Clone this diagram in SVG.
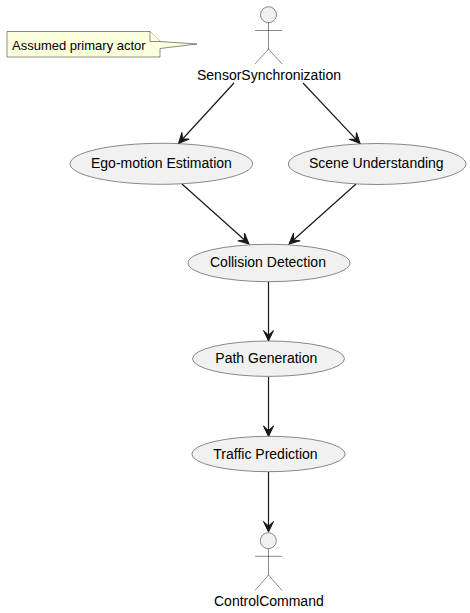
<svg xmlns="http://www.w3.org/2000/svg" width="470" height="613" viewBox="0 0 470 613">
<defs>
<style>
text{font-family:"Liberation Sans",Arial,sans-serif;font-size:14px;fill:#000}
.uc{fill:#F1F1F1;stroke:#181818;stroke-width:.5}
.head{fill:#F1F1F1;stroke:#181818;stroke-width:.5}
.stick{fill:none;stroke:#181818;stroke-width:.5}
.c{fill:none;stroke:#181818;stroke-width:1.2;marker-end:url(#ah)}
</style>
<marker id="ah" markerUnits="userSpaceOnUse" markerWidth="14" markerHeight="14" refX="8" refY="7" orient="auto">
<polygon points="12,7 1.500,2 6,7 1.500,12" fill="#181818" stroke="#181818" stroke-width="1"/>
</marker>
</defs>
<rect width="470" height="613" fill="#fff"/>
<g id="connectors">
<path class="c" d="M234 83L181.200 140.500"/>
<path class="c" d="M303 83L357.300 140.600"/>
<path class="c" d="M182 184L246 241.300"/>
<path class="c" d="M356 184L292 241.300"/>
<path class="c" d="M268.500 282L268.500 337"/>
<path class="c" d="M268.500 377L268.500 432.500"/>
<path class="c" d="M268.500 472L268.500 528"/>
</g>
<g id="note">
<path d="M7 31.500L150 31.500L160 41.500L197 44L160 48.500L160 57L7 57Z" fill="#FEFFDD" stroke="#181818" stroke-width=".5"/>
<path d="M150 31.500L150 41.500L160 41.500" fill="#FEFFDD" stroke="#181818" stroke-width=".5"/>
<text x="12" y="50" style="font-size:13px">Assumed primary actor</text>
</g>
<g id="SensorSynchronization">
<circle class="head" cx="268.500" cy="14.700" r="8"/>
<path class="stick" d="M268.500 22.700V49M255 30.500H282M268.500 49L255 64M268.500 49L282 64"/>
<text x="197" y="80">SensorSynchronization</text>
</g>
<g id="EgoMotionEstimation">
<ellipse class="uc" cx="161.300" cy="163.800" rx="91.300" ry="20.500"/>
<text x="91" y="168">Ego-motion Estimation</text>
</g>
<g id="SceneUnderstanding">
<ellipse class="uc" cx="377.200" cy="164" rx="88.800" ry="20.500"/>
<text x="309" y="168">Scene Understanding</text>
</g>
<g id="CollisionDetection">
<ellipse class="uc" cx="269" cy="263" rx="81" ry="18.700"/>
<text x="210" y="267">Collision Detection</text>
</g>
<g id="PathGeneration">
<ellipse class="uc" cx="268.500" cy="358.700" rx="76" ry="17.700"/>
<text x="215.300" y="363">Path Generation</text>
</g>
<g id="TrafficPrediction">
<ellipse class="uc" cx="268.500" cy="454" rx="76.700" ry="17.700"/>
<text x="213.300" y="459">Traffic Prediction</text>
</g>
<g id="ControlCommand">
<circle class="head" cx="268.300" cy="540.700" r="8"/>
<path class="stick" d="M268.500 548.700V575M255 556.300H282M268.500 575L255 590.500M268.500 575L282 590.500"/>
<text x="214" y="606">ControlCommand</text>
</g>
</svg>
